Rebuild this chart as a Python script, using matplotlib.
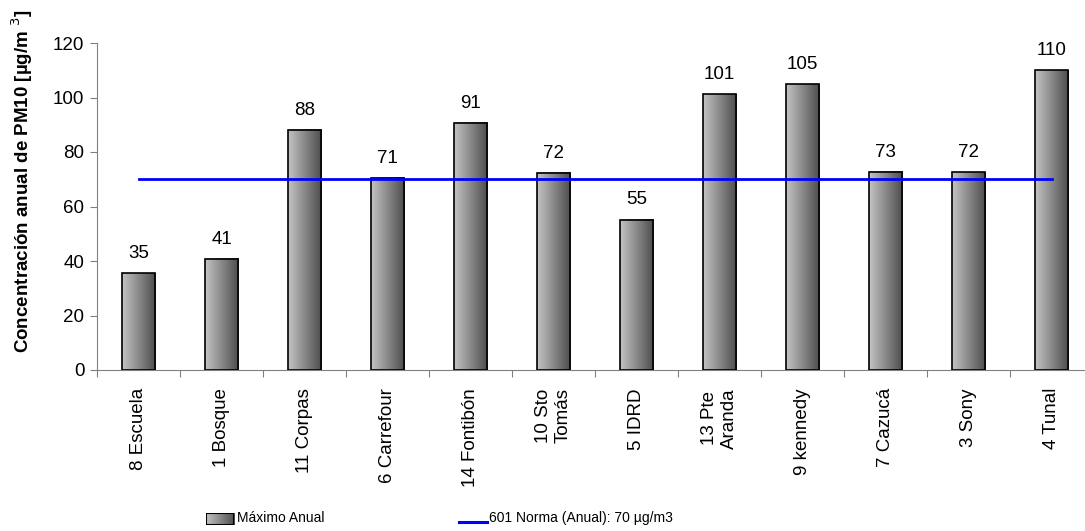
import matplotlib
matplotlib.use("Agg")
import matplotlib.pyplot as plt
import numpy as np
from matplotlib.colors import LinearSegmentedColormap
from matplotlib.patches import Rectangle
from matplotlib.lines import Line2D

categories = ["8 Escuela", "1 Bosque", "11 Corpas", "6 Carrefour", "14 Fontibón",
              "10 Sto\nTomás", "5 IDRD", "13 Pte\nAranda", "9 kennedy", "7 Cazucá",
              "3 Sony", "4 Tunal"]
values = [35.5, 40.8, 88.2, 70.6, 90.7, 72.3, 55.2, 101.2, 104.8, 72.8, 72.6, 110.0]
value_labels = ["35", "41", "88", "71", "91", "72", "55", "101", "105", "73", "72", "110"]
norma = 70
yticks = [0, 20, 40, 60, 80, 100, 120]

plt.rcParams['font.family'] = ['Liberation Sans', 'DejaVu Sans']

W, H = 1085, 531
FS = 13.5
fig = plt.figure(figsize=(W/100, H/100), dpi=100)
ax_l, ax_b, ax_r, ax_t = 97, 370, 1093, 43
ax = fig.add_axes([ax_l/W, 1 - ax_b/H, (ax_r-ax_l)/W, (ax_b-ax_t)/H])

cmap = LinearSegmentedColormap.from_list("g", ["#c4c4c4", "#4c4c4c"])
grad = np.linspace(0, 1, 256).reshape(1, -1)
n = len(categories)
x = np.arange(n)
bw = 0.4
for xi, v, lab in zip(x, values, value_labels):
    ax.imshow(grad, cmap=cmap, extent=[xi-bw/2, xi+bw/2, 0, v], aspect='auto', zorder=2)
    ax.add_patch(Rectangle((xi-bw/2, 0), bw, v, fill=False, edgecolor='black', lw=1.2, zorder=3))
    ax.annotate(lab, (xi, v), xytext=(0, 8), textcoords='offset points',
                ha='center', va='bottom', fontsize=FS)

ax.plot(x, [norma]*n, color='#0000ff', lw=2, zorder=4)

ax.set_xlim(-0.5, n-0.5)
ax.set_ylim(0, 120)
ax.set_yticks(yticks)
ax.tick_params(axis='y', labelsize=FS, direction='out', length=5, color='#808080', pad=4)
ax.set_xticks(np.arange(n+1)-0.5, minor=False)
ax.set_xticklabels([])
ax.set_xticks(x, minor=True)
ax.set_xticklabels(categories, minor=True, rotation=90, fontsize=FS, va='top', ha='center',
                   multialignment='center')
ax.tick_params(axis='x', which='minor', length=0, pad=13)
ax.tick_params(axis='x', which='major', direction='out', length=5, color='#808080')
for s in ['top', 'right']:
    ax.spines[s].set_visible(False)
for s in ['left', 'bottom']:
    ax.spines[s].set_color('#808080')

fig.text(22/W, 1-181/H, "Concentración anual de PM10 [µg/m $^{3}$]", fontsize=FS,
         fontweight='bold', rotation=90, ha='center', va='center')

# legend (manual)
lax = fig.add_axes([206/W, 1-525/H, 28/W, 12/H])
lax.imshow(grad, cmap=cmap, aspect='auto', extent=[0, 1, 0, 1])
lax.add_patch(Rectangle((0, 0), 1, 1, fill=False, edgecolor='black', lw=1.5))
lax.set_xlim(0, 1); lax.set_ylim(0, 1)
lax.axis('off')
fig.text(237/W, 1-518/H, "Máximo Anual", fontsize=10, va='center', ha='left')
fig.add_artist(Line2D([459/W, 487/W], [1-522/H, 1-522/H], color='#0000ff', lw=2.2))
fig.text(489/W, 1-518/H, "601 Norma (Anual): 70 µg/m3", fontsize=10, va='center', ha='left')

fig.savefig("out.png", dpi=100)
